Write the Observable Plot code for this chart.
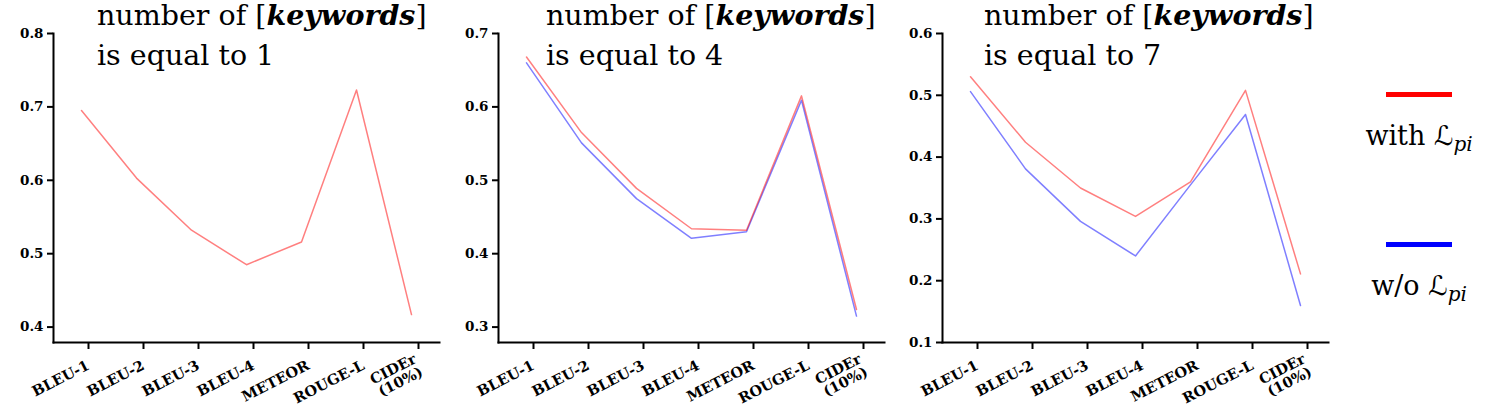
<!DOCTYPE html>
<html><head><meta charset="utf-8">
<script src="https://cdn.jsdelivr.net/npm/d3@7"></script>
<script src="https://cdn.jsdelivr.net/npm/@observablehq/plot@0.6"></script>
<style>
body{margin:0;background:#fff;width:1494px;height:407px;position:relative;overflow:hidden}
.panel{position:absolute;top:0}
.title{position:absolute;top:-5px;font-family:"DejaVu Serif";font-size:28.5px;line-height:40px;color:#000;white-space:nowrap}
.title b{font-style:italic;font-weight:bold}
.leg{position:absolute;left:1346px;width:146px;text-align:center;font-family:"DejaVu Serif";font-size:27px;color:#000;white-space:nowrap}
.swatch{position:absolute;left:1386px;width:66px;height:5px}
.L{font-family:"DejaVu Sans";font-style:normal}
.L sub{font-family:"DejaVu Serif";font-size:20px;font-style:italic;vertical-align:-6px;line-height:0}
</style></head><body>
<script>
// categories
const metrics = ["BLEU-1", "BLEU-2", "BLEU-3", "BLEU-4", "METEOR", "ROUGE-L", "CIDEr\n(10%)"];
const keywordCounts = [1, 4, 7];
const seriesNames = ["w/o Lpi", "with Lpi"];
// values (k = 1)
const withLpi1 = [0.695, 0.603, 0.532, 0.485, 0.516, 0.723, 0.417];
// values (k = 4)
const woLpi4   = [0.660, 0.551, 0.475, 0.421, 0.430, 0.609, 0.315];
const withLpi4 = [0.668, 0.565, 0.489, 0.434, 0.432, 0.615, 0.324];
// values (k = 7)
const woLpi7   = [0.506, 0.381, 0.296, 0.240, 0.355, 0.469, 0.160];
const withLpi7 = [0.530, 0.424, 0.350, 0.304, 0.360, 0.508, 0.211];
// y ticks
const yTicks1 = [0.4, 0.5, 0.6, 0.7, 0.8];
const yTicks4 = [0.3, 0.4, 0.5, 0.6, 0.7];
const yTicks7 = [0.1, 0.2, 0.3, 0.4, 0.5, 0.6];

const colors = {"w/o Lpi": "#0000ff", "with Lpi": "#ff0000"};

const panels = [
  {k: keywordCounts[0], series: [["with Lpi", withLpi1]], ticks: yTicks1, domain: [0.379, 0.8], left: 0, titleLeft: 97},
  {k: keywordCounts[1], series: [["w/o Lpi", woLpi4], ["with Lpi", withLpi4]], ticks: yTicks4, domain: [0.279, 0.7], left: 445, titleLeft: 546},
  {k: keywordCounts[2], series: [["w/o Lpi", woLpi7], ["with Lpi", withLpi7]], ticks: yTicks7, domain: [0.1, 0.6], left: 889, titleLeft: 984}
];

for (const p of panels) {
  const rows = p.series.flatMap(([name, vals]) => vals.map((v, i) => ({metric: metrics[i], value: v, series: name})));
  const chart = Plot.plot({
    width: 445, height: 407,
    marginLeft: 53, marginRight: 6, marginTop: 33, marginBottom: 65,
    style: {fontFamily: "DejaVu Serif", fontWeight: "bold", color: "#000", background: "transparent", overflow: "visible"},
    x: {type: "point", domain: metrics, padding: 0.5},
    y: {domain: p.domain},
    marks: [
      Plot.axisY({ticks: p.ticks, tickFormat: d3.format(".1f"), tickSize: 6, tickPadding: 4, strokeWidth: 2, fontSize: 13.5, label: null}),
      Plot.axisX({tickRotate: -27, tickSize: 7, tickPadding: 15, dx: 7, strokeWidth: 2, fontSize: 14.5, label: null}),
      Plot.frame({anchor: "left", strokeWidth: 2}),
      Plot.frame({anchor: "bottom", strokeWidth: 2}),
      ...p.series.map(([name]) => Plot.lineY(rows.filter(r => r.series === name), {x: "metric", y: "value", stroke: colors[name], strokeWidth: 1.5, strokeOpacity: 0.5}))
    ]
  });
  const div = document.createElement("div");
  div.className = "panel";
  div.style.left = p.left + "px";
  div.appendChild(chart);
  document.body.appendChild(div);
  const t = document.createElement("div");
  t.className = "title";
  t.style.left = p.titleLeft + "px";
  t.innerHTML = `number of [<b>keywords</b>]<br>is equal to ${p.k}`;
  document.body.appendChild(t);
}

// legend
const legendItems = [
  {name: "with Lpi", label: "with", lineTop: 92, textTop: 120},
  {name: "w/o Lpi", label: "w/o", lineTop: 242, textTop: 270}
];
for (const it of legendItems) {
  const s = document.createElement("div");
  s.className = "swatch";
  s.style.top = it.lineTop + "px";
  s.style.background = colors[it.name];
  document.body.appendChild(s);
  const l = document.createElement("div");
  l.className = "leg";
  l.style.top = it.textTop + "px";
  l.innerHTML = `${it.label} <span class="L">ℒ<sub>pi</sub></span>`;
  document.body.appendChild(l);
}
</script>
</body></html>
